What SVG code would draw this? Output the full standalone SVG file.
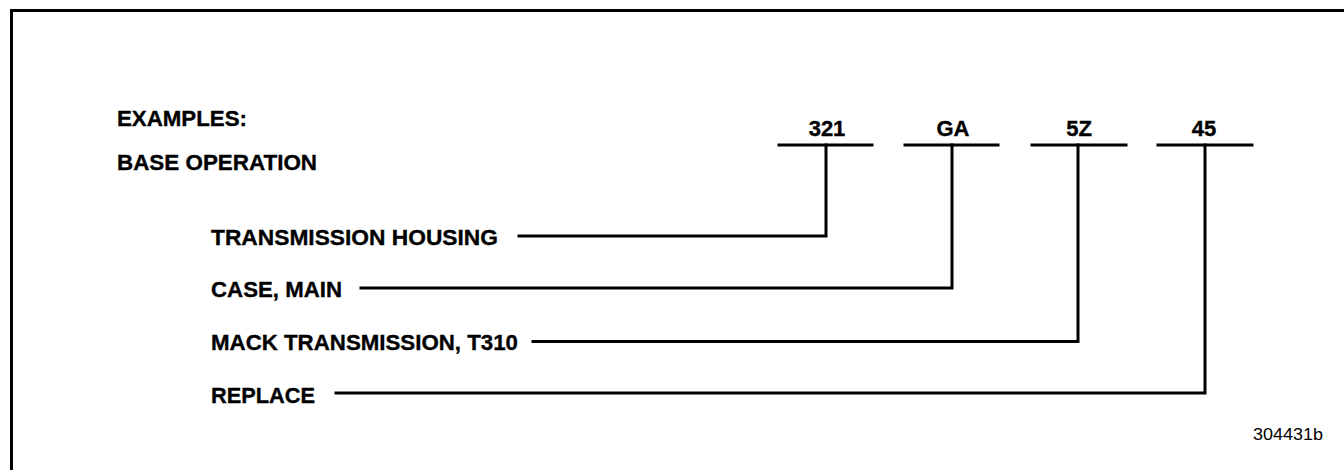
<svg xmlns="http://www.w3.org/2000/svg" width="1344" height="470" viewBox="0 0 1344 470">
<style>
.t{font-family:"Liberation Sans",Arial,sans-serif;font-weight:bold;font-size:22px;fill:#000;stroke:#000;stroke-width:0.35}
.c{text-anchor:middle}
.s{font-family:"Liberation Sans",Arial,sans-serif;font-size:17px;fill:#000}
.ln{fill:none;stroke:#000;stroke-width:3;stroke-linecap:square}
</style>
<rect width="1344" height="470" fill="#fff"/>
<path class="ln" d="M11.5,470 V10.5 H1344"/>
<g id="header">
<text class="t" x="117" y="126" textLength="130" lengthAdjust="spacingAndGlyphs">EXAMPLES:</text>
<text class="t" x="117" y="170" textLength="200" lengthAdjust="spacingAndGlyphs">BASE OPERATION</text>
</g>
<g id="code-321"><text class="t c" x="827" y="136">321</text><line class="ln" x1="779" y1="145" x2="872" y2="145"/></g>
<g id="code-GA"><text class="t c" x="953" y="136">GA</text><line class="ln" x1="905" y1="145" x2="998" y2="145"/></g>
<g id="code-5Z"><text class="t c" x="1079" y="136">5Z</text><line class="ln" x1="1032" y1="145" x2="1126" y2="145"/></g>
<g id="code-45"><text class="t c" x="1204" y="136">45</text><line class="ln" x1="1158" y1="145" x2="1252" y2="145"/></g>
<g id="label-housing"><text class="t" x="211" y="244.5" textLength="287" lengthAdjust="spacingAndGlyphs">TRANSMISSION HOUSING</text></g>
<g id="label-case"><text class="t" x="211" y="297" textLength="131" lengthAdjust="spacingAndGlyphs">CASE, MAIN</text></g>
<g id="label-mack"><text class="t" x="211" y="349.5" textLength="307" lengthAdjust="spacingAndGlyphs">MACK TRANSMISSION, T310</text></g>
<g id="label-replace"><text class="t" x="211" y="403" textLength="104" lengthAdjust="spacingAndGlyphs">REPLACE</text></g>
<g id="connectors">
<polyline class="ln" points="519,236 826,236 826,145"/>
<polyline class="ln" points="361,288 952,288 952,145"/>
<polyline class="ln" points="533,341.5 1078,341.5 1078,145"/>
<polyline class="ln" points="336,393 1205,393 1205,145"/>
</g>
<text class="s" x="1253" y="440" textLength="70" lengthAdjust="spacingAndGlyphs">304431b</text>
</svg>
